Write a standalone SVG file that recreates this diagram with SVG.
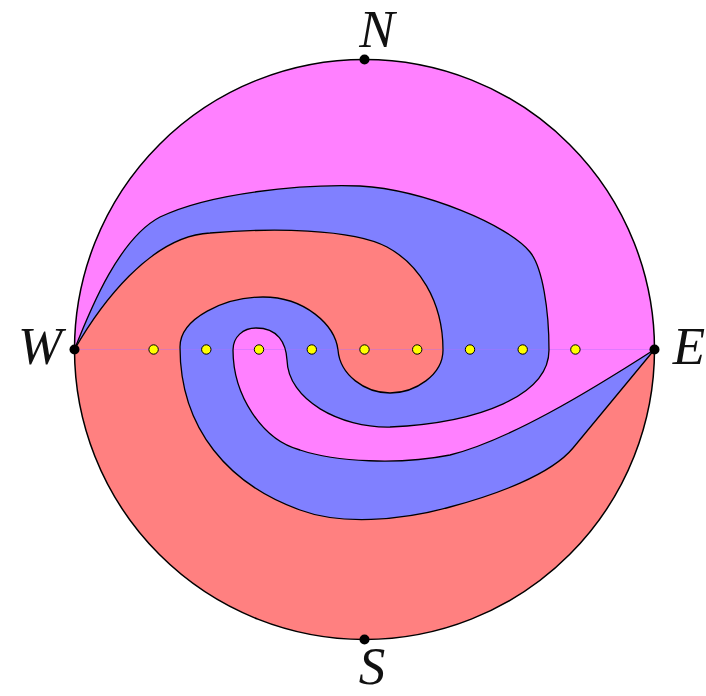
<svg xmlns="http://www.w3.org/2000/svg" width="706" height="696" viewBox="0 0 706 696">
<style>
.red{fill:#ff8080}
.blue{fill:#8080ff}
.mag{fill:#ff80ff}
.bd{fill:none;stroke:#000;stroke-width:1.3;stroke-linejoin:round}
.axis{stroke:#b070ff;stroke-width:0.8;opacity:0.5}
.pt{fill:#ffff00;stroke:#000;stroke-width:1}
.pole{fill:#000}
.lbl{font-family:"Liberation Serif","Times New Roman",serif;font-style:italic;font-size:53px;fill:#111;text-anchor:middle}
</style>
<g id="regions">
<circle class="red" cx="364.5" cy="349.5" r="290"/>
<path id="blue-region" class="blue" d="M74.5,349.5 C99.5,306 150,236 210,233 C270,228 351.8,228.2 387,247 C417.8,263.5 443,300 443,350 C443,375 415,393 390,393 C365,393 340,375 338,350 C335,325 305,297 263,297 C225,297 180,318 180,347 C180,430 230,485 300,510 C340,525 400,521 450,507 C495,495 550.6,475 573,448 L654.5,349.5 A290,290 0 0 0 74.5,349.5 Z"/>
<path id="magenta-region" class="mag" d="M74.5,349.5 C92,305 120,238 160,217 C210,193 300,184 360,186 C425,190 508,225 530,252 C542.6,267.4 549,310 549,350 C549,395 480,423 390,427 C340,428 288,400 287,360 C286,343 278,328 256,328 C243,328 233,337 233,350 C233,395 262,440 300,450 C335,462 400,465 450,455 C508,440.6 587.3,392.7 654.5,349.5 A290,290 0 0 0 74.5,349.5 Z"/>
</g>
<g id="connectors">
<line class="axis" x1="74.5" y1="349.5" x2="654.5" y2="349.5"/>
<path id="curve-red-blue" class="bd" d="M74.5,349.5 C99.5,306 150,236 210,233 C270,228 351.8,228.2 387,247 C417.8,263.5 443,300 443,350 C443,375 415,393 390,393 C365,393 340,375 338,350 C335,325 305,297 263,297 C225,297 180,318 180,347 C180,430 230,485 300,510 C340,525 400,521 450,507 C495,495 550.6,475 573,448 L654.5,349.5"/>
<path id="curve-blue-magenta" class="bd" d="M74.5,349.5 C92,305 120,238 160,217 C210,193 300,184 360,186 C425,190 508,225 530,252 C542.6,267.4 549,310 549,350 C549,395 480,423 390,427 C340,428 288,400 287,360 C286,343 278,328 256,328 C243,328 233,337 233,350 C233,395 262,440 300,450 C335,462 400,465 450,455 C508,440.6 587.3,392.7 654.5,349.5"/>
<circle id="boundary" cx="364.5" cy="349.5" r="290" fill="none" stroke="#000" stroke-width="1.5"/>
</g>
<g id="points">
<circle class="pt" cx="153.6" cy="349.5" r="4.7"/>
<circle class="pt" cx="206.3" cy="349.5" r="4.7"/>
<circle class="pt" cx="259" cy="349.5" r="4.7"/>
<circle class="pt" cx="311.8" cy="349.5" r="4.7"/>
<circle class="pt" cx="364.5" cy="349.5" r="4.7"/>
<circle class="pt" cx="417.2" cy="349.5" r="4.7"/>
<circle class="pt" cx="470" cy="349.5" r="4.7"/>
<circle class="pt" cx="522.7" cy="349.5" r="4.7"/>
<circle class="pt" cx="575.4" cy="349.5" r="4.7"/>
</g>
<g id="node-N"><circle class="pole" cx="364.5" cy="59.5" r="5"/><text class="lbl" x="377" y="47">N</text></g>
<g id="node-S"><circle class="pole" cx="364.5" cy="639.5" r="5"/><text class="lbl" x="372" y="684">S</text></g>
<g id="node-W"><circle class="pole" cx="74.5" cy="349.5" r="5"/><text class="lbl" x="40" y="364">W</text></g>
<g id="node-E"><circle class="pole" cx="654.5" cy="349.5" r="5"/><text class="lbl" x="689" y="364">E</text></g>
</svg>
